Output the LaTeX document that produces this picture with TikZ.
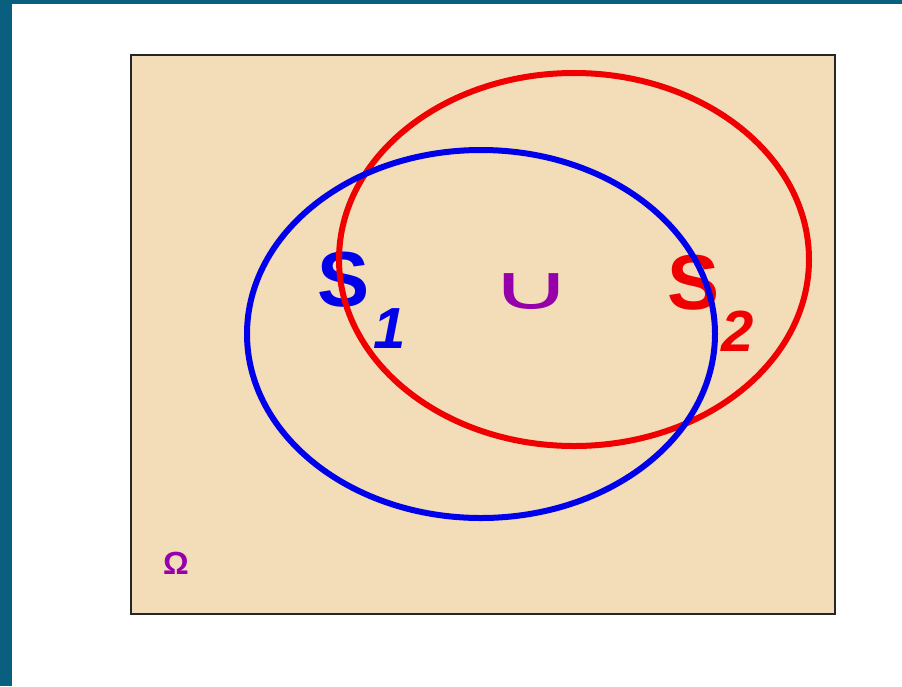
\documentclass[tikz,border=0pt]{standalone}
\usepackage{fontspec}
\setmainfont{Liberation Sans}
\newfontfamily\djv{DejaVu Sans}
\definecolor{teal0}{RGB}{10,95,128}
\definecolor{beige}{RGB}{243,221,185}
\definecolor{sblue}{RGB}{0,0,235}
\definecolor{sred}{RGB}{240,0,0}
\definecolor{spurple}{RGB}{150,0,170}
\tikzset{
  setline/.style={line width=6pt},
  bigS/.style={inner sep=0pt, font=\fontsize{78}{78}\selectfont\bfseries},
  subtxt/.style={inner sep=0pt, font=\fontsize{58}{58}\selectfont\bfseries\itshape},
  sym/.style={inner sep=0pt, text=spurple}
}
\begin{document}
\begin{tikzpicture}[x=1pt,y=-1pt]
\useasboundingbox (0,0) rectangle (902,686);
\fill[white] (0,0) rectangle (902,686);
\fill[teal0] (0,0) rectangle (12,686);
\fill[teal0] (0,0) rectangle (902,4);
\draw[fill=beige, draw=black!85, line width=1.5pt] (131,55) rectangle (835,614);
\node[bigS, text=sblue] (s1) at (344,280) {S};
\node[subtxt, text=sblue] (s1sub) at (390,329) {1};
\draw[setline, sred] (574,259.5) ellipse [x radius=235, y radius=186.5];
\node[bigS, text=sred] (s2) at (694,283) {S};
\node[subtxt, text=sred] (s2sub) at (738,331) {2};
\draw[setline, sblue] (481,334) ellipse [x radius=234, y radius=184];
\node[sym, font=\djv\fontsize{62}{62}\selectfont, xscale=1.85] (cup) at (531,292) {∪};
\node[sym, font=\fontsize{32}{32}\selectfont\bfseries] (omega) at (176,563) {Ω};
\end{tikzpicture}
\end{document}
